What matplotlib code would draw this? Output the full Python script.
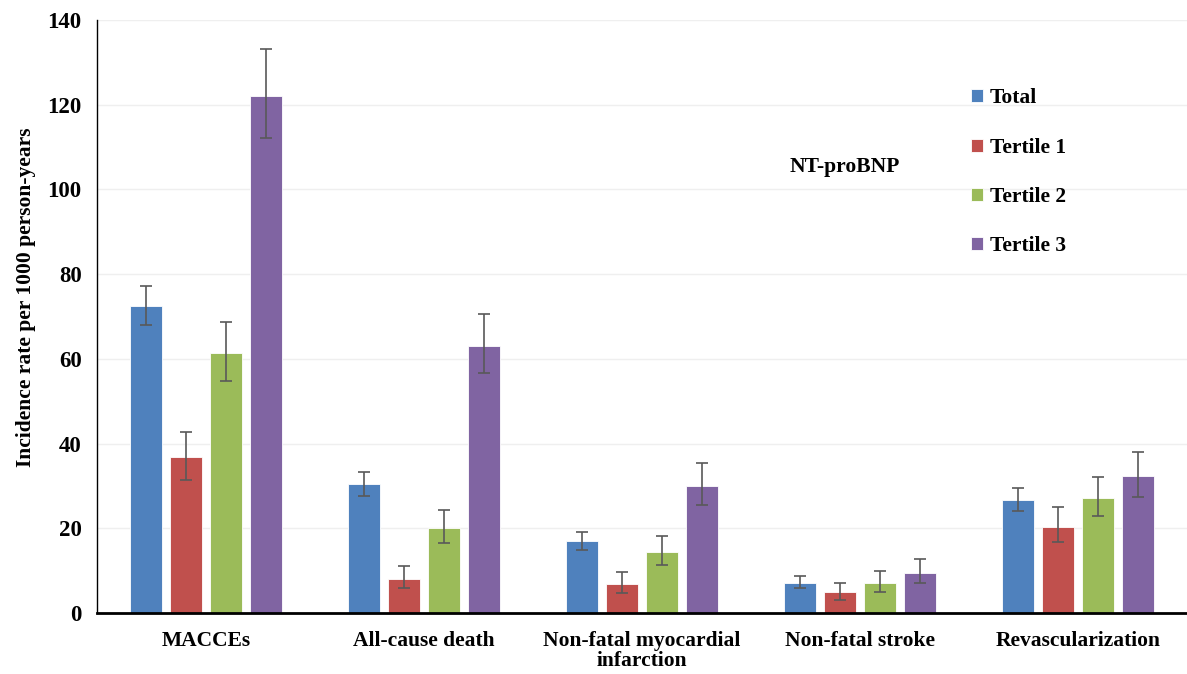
import numpy as np
import matplotlib.pyplot as plt

plt.rcParams['font.family'] = ['Liberation Serif', 'DejaVu Serif']
plt.rcParams['font.weight'] = 'bold'

categories = ['MACCEs', 'All-cause death', 'Non-fatal myocardial\ninfarction',
              'Non-fatal stroke', 'Revascularization']
series = ['Total', 'Tertile 1', 'Tertile 2', 'Tertile 3']
colors = ['#4F81BD', '#C0504D', '#9BBB59', '#8064A2']

# incidence rates per series (one value per category)
total = [72.5, 30.5, 16.9, 7.1, 26.6]
tertile1 = [36.8, 8.1, 6.8, 4.9, 20.4]
tertile2 = [61.3, 20.0, 14.4, 7.0, 27.2]
tertile3 = [122.0, 63.1, 30.0, 9.4, 32.4]

# confidence interval limits
total_lo = [68.1, 27.7, 14.9, 5.8, 24.1]
total_hi = [77.2, 33.4, 19.2, 8.7, 29.5]
tertile1_lo = [31.4, 6.0, 4.8, 3.1, 16.7]
tertile1_hi = [42.7, 11.2, 9.6, 7.2, 25.1]
tertile2_lo = [54.7, 16.5, 11.4, 5.0, 22.8]
tertile2_hi = [68.8, 24.2, 18.2, 9.8, 32.2]
tertile3_lo = [112.1, 56.6, 25.4, 7.0, 27.5]
tertile3_hi = [133.1, 70.7, 35.5, 12.7, 38.1]

values = [total, tertile1, tertile2, tertile3]
lows = [total_lo, tertile1_lo, tertile2_lo, tertile3_lo]
highs = [total_hi, tertile1_hi, tertile2_hi, tertile3_hi]

fig = plt.figure(figsize=(11.87, 6.74), dpi=100)
ax = fig.add_axes([97 / 1187, 61 / 674, 1090 / 1187, 593 / 674])

x = np.arange(len(categories))
step = 0.183
width = 0.145
for i, (name, vals) in enumerate(zip(series, values)):
    vals = np.array(vals)
    yerr = [vals - np.array(lows[i]), np.array(highs[i]) - vals]
    ax.bar(x + (i - 1.5) * step, vals, width, color=colors[i], label=name,
           edgecolor='white', linewidth=0.6, zorder=2,
           yerr=yerr, capsize=4,
           error_kw=dict(ecolor='#595959', elinewidth=1.2, capthick=1.2, zorder=3))

ax.set_xlim(-0.5, 4.5)
ax.set_ylim(0, 140)
ax.set_yticks(np.arange(0, 141, 20))
ax.set_xticks(x)
ax.set_xticklabels(categories, fontsize=15.5, fontweight='bold', linespacing=1.0)
ax.tick_params(axis='both', length=0)
ax.tick_params(axis='x', pad=13)
ax.tick_params(axis='y', pad=11, labelsize=16.5)
for lab in ax.get_yticklabels():
    lab.set_fontweight('bold')

ax.yaxis.grid(True, color='#EFEFEF', linewidth=1, zorder=0)
ax.set_axisbelow(True)
ax.spines['top'].set_visible(False)
ax.spines['right'].set_visible(False)
ax.spines['left'].set_color('black')
ax.spines['left'].set_linewidth(1)
ax.spines['bottom'].set_color('black')
ax.spines['bottom'].set_linewidth(2)

ax.set_ylabel('Incidence rate per 1000 person-years', fontsize=15.5, fontweight='bold')
ax.yaxis.set_label_coords(-0.056, 0.532)

ax.text(0.686, 0.752, 'NT-proBNP', transform=ax.transAxes, fontsize=15.5,
        fontweight='bold', ha='center', va='center')

ax.legend(loc='upper left', bbox_to_anchor=(952 / 1187, 1 - 69 / 674),
          bbox_transform=fig.transFigure, frameon=False,
          handlelength=0.55, handleheight=0.55, handletextpad=0.3,
          labelspacing=1.36, prop={'weight': 'bold', 'size': 15.5})

fig.savefig('out.png', dpi=100)
